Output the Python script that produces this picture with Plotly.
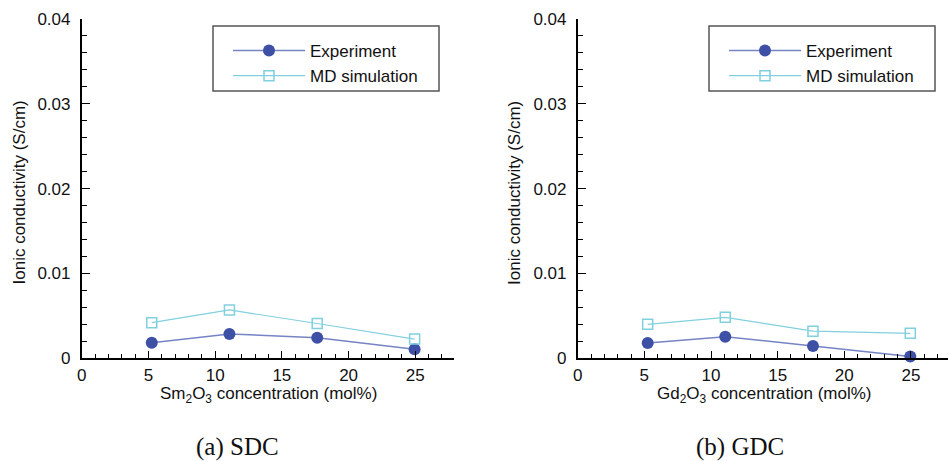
import plotly.graph_objects as go

W, H = 948, 461

# ---- data ----
conc = [5.25, 11.07, 17.65, 24.95]
sdc_exp = [0.00184, 0.00287, 0.00243, 0.00106]
sdc_md = [0.0042, 0.0057, 0.0041, 0.00227]
gdc_exp = [0.0018, 0.00255, 0.00145, 0.0002]
gdc_md = [0.0040, 0.00483, 0.0032, 0.00295]

y_tickvals = [0, 0.01, 0.02, 0.03, 0.04]
y_ticktext = ["0", "0.01", "0.02", "0.03", "0.04"]
x_tickvals = [0, 5, 10, 15, 20, 25]
x_ticktext = ["0", "5", "10", "15", "20", "25"]

FONT = "Arial, Liberation Sans, sans-serif"
EXP_MARK = "#3d50a6"
EXP_LINE = "#7683c4"
MD_COL = "#80d0de"


def px(x):
    return x / W


def py(y):
    return 1 - y / H


fig = go.Figure()

for i, (exp, md) in enumerate([(sdc_exp, sdc_md), (gdc_exp, gdc_md)]):
    xa = "x" if i == 0 else "x2"
    ya = "y" if i == 0 else "y2"
    lg = "legend" if i == 0 else "legend2"
    fig.add_trace(go.Scatter(
        x=conc, y=exp, name="Experiment", xaxis=xa, yaxis=ya, legend=lg,
        mode="lines+markers", cliponaxis=False,
        line=dict(color=EXP_LINE, width=1.5),
        marker=dict(symbol="circle", size=12, color=EXP_MARK,
                    line=dict(width=0)),
    ))
    fig.add_trace(go.Scatter(
        x=conc, y=md, name="MD simulation", xaxis=xa, yaxis=ya, legend=lg,
        mode="lines+markers", cliponaxis=False,
        line=dict(color=MD_COL, width=1.2),
        marker=dict(symbol="square-open", size=10, color=MD_COL,
                    line=dict(width=1.5, color=MD_COL)),
    ))

y_dom = [py(358.3), py(19)]
axis_common = dict(showline=True, linecolor="black", linewidth=1.6,
                   showgrid=False, zeroline=False, ticks="inside",
                   tickcolor="black", tickwidth=1.2, automargin=False,
                   tickfont=dict(family=FONT, size=17, color="#111"))

xcommon = dict(axis_common, tickvals=x_tickvals, ticktext=x_ticktext, ticklen=8,
               minor=dict(dtick=1, tick0=0, ticks="inside", ticklen=5,
                          tickcolor="black", tickwidth=1.2))
ycommon = dict(axis_common, tickvals=y_tickvals, ticktext=y_ticktext, ticklen=8,
               range=[0, 0.04], ticklabelstandoff=6,
               minor=dict(dtick=0.002, tick0=0, ticks="inside", ticklen=5,
                          tickcolor="black", tickwidth=1.2))

leg_common = dict(xanchor="left", yanchor="top", bgcolor="rgba(0,0,0,0)",
                  borderwidth=0, itemwidth=72, tracegroupgap=0,
                  font=dict(family=FONT, size=17, color="#111"))

fig.update_layout(
    width=W, height=H,
    margin=dict(l=0, r=0, t=0, b=0, pad=0, autoexpand=False),
    paper_bgcolor="white", plot_bgcolor="white",
    showlegend=True,
    xaxis=dict(xcommon, domain=[px(81.7), px(454)], range=[0, 27.9], anchor="y"),
    yaxis=dict(ycommon, domain=y_dom, anchor="x"),
    xaxis2=dict(xcommon, domain=[px(577.7), 1.0], range=[0, 27.78], anchor="y2"),
    yaxis2=dict(ycommon, domain=y_dom, anchor="x2"),
    legend=dict(leg_common, x=px(228), y=py(33)),
    legend2=dict(leg_common, x=px(724), y=py(33)),
)

# legend frames
for x0 in (213, 709):
    fig.add_shape(type="rect", xref="paper", yref="paper",
                  x0=px(x0), x1=px(x0 + 226), y0=py(91), y1=py(26),
                  line=dict(color="#555", width=1.5), fillcolor="rgba(0,0,0,0)")

# axis titles & captions
for xc, ytx, xlab, cap, capx in [
    (268, 18.5, "Sm<sub>2</sub>O<sub>3</sub> concentration (mol%)", "(a) SDC", 237),
    (764, 514, "Gd<sub>2</sub>O<sub>3</sub> concentration (mol%)", "(b) GDC", 740),
]:
    fig.add_annotation(x=px(ytx), y=py(193), xref="paper", yref="paper",
                       text="Ionic conductivity (S/cm)", textangle=-90,
                       showarrow=False, xanchor="center", yanchor="middle",
                       font=dict(family=FONT, size=17, color="#111"))
    fig.add_annotation(x=px(xc), y=py(395), xref="paper", yref="paper",
                       text=xlab, showarrow=False, xanchor="center", yanchor="middle",
                       font=dict(family=FONT, size=17, color="#111"))
    fig.add_annotation(x=px(capx), y=py(447), xref="paper", yref="paper",
                       text=cap, showarrow=False, xanchor="center", yanchor="middle",
                       font=dict(family="Liberation Serif, Times New Roman, serif",
                                 size=25, color="#111"))

fig.write_html(
    "out.html",
    config={"displayModeBar": False},
    post_script="document.body.style.margin='0';document.body.style.overflow='hidden';",
)
